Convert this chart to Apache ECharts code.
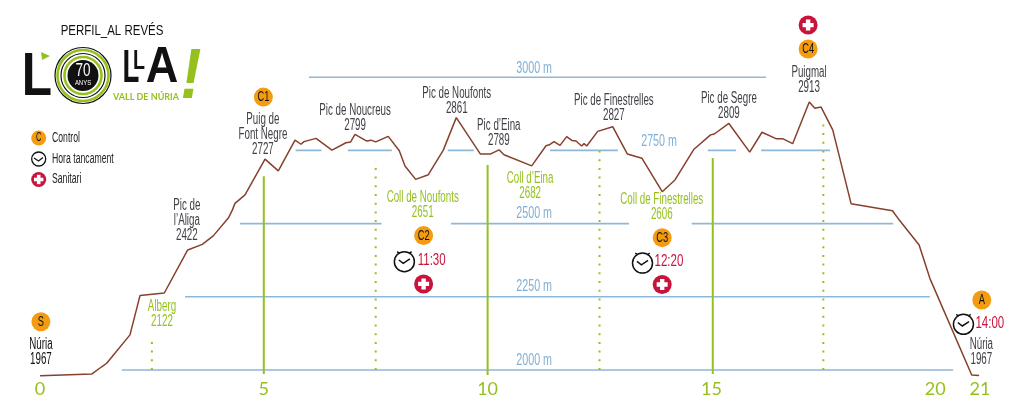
<!DOCTYPE html>
<html>
<head>
<meta charset="utf-8">
<style>
  html, body { margin: 0; padding: 0; background: #fff; }
  #chart { width: 1024px; height: 417px; }
</style>
<script src="https://cdn.jsdelivr.net/npm/echarts@6/dist/echarts.min.js"></script>
</head>
<body>
<div id="chart"></div>
<script>
// elevation profile (km, metres)
const profileKm = [0, 1.155, 1.378, 1.49, 2.01, 2.234, 2.777, 3.3, 3.626, 3.87, 4.216, 4.296, 4.356, 4.58, 5.027, 5.324, 5.697, 5.83, 5.898, 6.166, 6.523, 6.836, 6.94, 7.037, 7.3, 7.395, 7.5, 7.78, 8.027, 8.154, 8.393, 8.675, 9.01, 9.3, 9.836, 10.07, 10.254, 10.366, 10.985, 11.305, 11.378, 11.483, 11.617, 11.767, 11.879, 11.975, 12.1, 12.154, 12.214, 12.459, 12.794, 13.12, 13.449, 13.9, 14.186, 14.61, 14.98, 15.064, 15.39, 15.855, 16.13, 16.44, 16.59, 16.815, 17.186, 17.31, 17.45, 17.71, 18.12, 19.045, 19.197, 19.64, 19.88, 20.815, 20.98];
const profileAlt = [1980, 1986, 2011, 2023, 2120, 2254, 2263, 2410, 2429, 2458, 2521, 2546, 2569, 2598, 2720, 2680, 2785, 2771, 2780, 2791, 2751, 2776, 2779, 2805, 2782, 2785, 2779, 2798, 2749, 2697, 2651, 2667, 2751, 2862, 2738, 2738, 2752, 2735, 2697, 2766, 2769, 2780, 2767, 2797, 2784, 2782, 2765, 2773, 2765, 2815, 2831, 2738, 2723, 2609, 2649, 2754, 2803, 2806, 2842, 2744, 2812, 2790, 2790, 2773, 2915, 2894, 2898, 2820, 2568, 2544, 2512, 2427, 2313, 1983, 1981];

const kmTicks = [0, 5, 10, 15, 20, 21];

// horizontal altitude rules, each with the stretches of km where they are drawn
const levelAlts = [3000, 2750, 2500, 2250, 2000];
const levelRanges = [
  [[6.01, 16.22]],
  [[5.71, 6.29], [6.88, 7.86], [9.11, 9.69], [11.39, 12.91], [14.92, 15.55], [16.11, 17.65]],
  [[4.47, 7.63], [9.18, 13.16], [14.56, 19.06]],
  [[3.24, 19.88]],
  [[1.83, 20.4]]
];
const levelTexts = ["3000 m", "2750 m", "2500 m", "2250 m", "2000 m"];
const levelTextKm = [11.04, 13.83, 11.04, 11.04, 11.04];
const levelTextAlt = [3031, 2779, 2533, 2284, 2032];

// green km markers
const solidKm = [5, 10, 15.03];
const solidTop = [2662, 2700, 2724];
const solidBottom = [1986, 1983, 1986];
const dottedKm = [2.5, 7.5, 12.5, 17.5];
const dottedTop = [2109, 2714, 2765, 2847];
const dottedBottom = [2000, 2000, 2000, 2000];

// summits
const peakNames = ["Puig de\nFont Negre", "Pic de Noucreus", "Pic de Noufonts", "Pic d’Eina", "Pic de Finestrelles", "Pic de Segre", "Puigmal", "Pic de\nl’Aliga", "Núria"];
const peakHeights = [2727, 2799, 2861, 2789, 2827, 2809, 2913, 2422, 1967];
const peakKm = [4.98, 7.04, 9.31, 10.25, 12.82, 15.39, 17.18, 3.28, 21.03];
const peakAlt = [2803, 2861, 2919, 2810, 2895, 2900, 2990, 2509, 2060];

// cols and the refuge
const passNames = ["Alberg", "Coll de Noufonts", "Coll d’Eina", "Coll de Finestrelles"];
const passHeights = [2122, 2651, 2682, 2606];
const passKm = [2.725, 8.55, 10.95, 13.89];
const passAlt = [2190, 2563, 2628, 2555];

// start town, darker than the finish one
const startName = "Núria";
const startHeight = 1967;
const startKm = [0.02];
const startAlt = [2060];

// checkpoints
const controlNames = ["S", "C1", "C2", "C3", "C4", "A"];
const controlKm = [0.02, 4.99, 8.57, 13.9, 17.16, 21.04];
const controlAlt = [2165, 2932, 2459, 2452, 3096, 2239];
const medicKm = [8.57, 13.9, 17.16];
const medicAlt = [2294, 2292, 3178];
const closeTimes = ["11:30", "12:20", "14:00"];
const clockKm = [8.14, 13.46, 20.63];
const clockAlt = [2370, 2365, 2156];
const timeKm = [8.75, 14.05, 21.22];
const timeAlt = [2372, 2369, 2157];

const SANS = '"Liberation Sans", sans-serif';
const SQUEEZE = 0.61;
const GREEN = "#95c11f", BLUE = "#8fb8d8", ORANGE = "#f39c12", RED = "#c8143c", GRAY = "#3f3f46";
const CLOCK = "path://M10 2A9 9 0 1 1 9.99 2ZM5 9.5L9 12.5L15 8.5M3.5 2L5.5 3.5M16.5 2L14.5 3.5";
const PLUS = "path://M3 0H7V3H10V7H7V10H3V7H0V3H3Z";

function zip(xs, ys) {
  return xs.map((x, i) => [x, ys[i]]);
}

// no condensed face is installed, so squeeze the text sideways
function textSeries(name, xs, ys, texts, color, size, squeeze) {
  return {
    name: name,
    type: "custom",
    silent: true,
    z: 7,
    data: zip(xs, ys),
    renderItem: (params, api) => {
      const pos = api.coord([api.value(0), api.value(1)]);
      return {
        type: "text",
        x: pos[0],
        y: pos[1],
        scaleX: squeeze || SQUEEZE,
        style: {
          text: texts[params.dataIndex],
          fill: color,
          font: size + "px " + SANS,
          lineHeight: 15,
          textAlign: "center",
          textVerticalAlign: "middle"
        }
      };
    }
  };
}

function levelData() {
  let out = [];
  levelAlts.forEach((alt, i) => {
    levelRanges[i].forEach(r => {
      out.push([r[0], alt], [r[1], alt], ["-", "-"]);
    });
  });
  return out;
}

function verticalData(xs, tops, bottoms) {
  let out = [];
  xs.forEach((x, i) => {
    out.push([x, bottoms[i]], [x, tops[i]], ["-", "-"]);
  });
  return out;
}

function ruleSeries(name, data, color, width, dash) {
  return {
    name: name,
    type: "line",
    showSymbol: false,
    symbol: "none",
    silent: true,
    connectNulls: false,
    data: data,
    lineStyle: { color: color, width: width, type: dash || "solid" }
  };
}

function label(text, x, y, font, fill, scale, align) {
  return {
    type: "text",
    z: 21,
    x: x,
    y: y,
    scaleX: scale || 1,
    style: { text: text, fill: fill, font: font, textAlign: align || "center", textVerticalAlign: "middle" }
  };
}

function ring(r, color, width) {
  return { type: "circle", z: 20, shape: { cx: 83, cy: 75.5, r: r }, style: { fill: "none", stroke: color, lineWidth: width } };
}

const chart = echarts.init(document.getElementById("chart"));

chart.setOption({
  animation: false,
  backgroundColor: "#fff",
  grid: { left: 40, right: 44, top: 4, bottom: 35.3 },
  xAxis: {
    type: "value",
    min: 0,
    max: 21,
    interval: 5,
    splitLine: { show: false },
    axisLine: { show: false },
    axisTick: { show: false },
    axisLabel: {
      customValues: kmTicks,
      margin: -2,
      color: GREEN,
      fontFamily: "Lato",
      fontSize: 18
    }
  },
  yAxis: { type: "value", min: 1960, max: 3250, show: false },
  series: [
    ruleSeries("levels", levelData(), BLUE, 1.6),
    ruleSeries("km", verticalData(solidKm, solidTop, solidBottom), GREEN, 2),
    ruleSeries("km half", verticalData(dottedKm, dottedTop, dottedBottom), GREEN, 2, [2, 6.7]),
    {
      name: "perfil",
      type: "line",
      symbol: "none",
      silent: true,
      z: 4,
      data: zip(profileKm, profileAlt),
      lineStyle: { color: "#86402b", width: 1.5 }
    },
    textSeries("level texts", levelTextKm, levelTextAlt, levelTexts, "#7fb0d6", 16, 0.67),
    textSeries("peak texts", peakKm, peakAlt, peakNames.map((n, i) => n + "\n" + peakHeights[i]), GRAY, 16),
    textSeries("start text", startKm, startAlt, [startName + "\n" + startHeight], "#111", 16),
    textSeries("pass texts", passKm, passAlt, passNames.map((n, i) => n + "\n" + passHeights[i]), GREEN, 16),
    textSeries("times", timeKm, timeAlt, closeTimes, RED, 16, 0.72),
    {
      name: "Control",
      type: "scatter",
      clip: false,
      silent: true,
      z: 5,
      symbol: "circle",
      symbolSize: 19,
      itemStyle: { color: ORANGE, opacity: 1 },
      data: zip(controlKm, controlAlt)
    },
    textSeries("control texts", controlKm, controlAlt, controlNames, "#111", 15, 0.62),
    {
      name: "Sanitari",
      type: "scatter",
      clip: false,
      silent: true,
      z: 5,
      symbol: "circle",
      symbolSize: 19,
      itemStyle: { color: RED, opacity: 1 },
      data: zip(medicKm, medicAlt)
    },
    {
      name: "sanitari plus",
      type: "scatter",
      clip: false,
      silent: true,
      z: 6,
      symbol: PLUS,
      symbolSize: 11,
      itemStyle: { color: "#fff", opacity: 1 },
      data: zip(medicKm, medicAlt)
    },
    {
      name: "Hora tancament",
      type: "scatter",
      clip: false,
      silent: true,
      z: 5,
      symbol: CLOCK,
      symbolSize: 20,
      itemStyle: { color: "none", borderColor: "#111", borderWidth: 1.5, opacity: 1 },
      data: zip(clockKm, clockAlt)
    }
  ],
  graphic: [
    label("PERFIL_AL REVÉS", 112, 31, "14px " + SANS, "#111", 0.82),

    // legend
    { type: "circle", z: 20, shape: { cx: 38.7, cy: 138, r: 7.5 }, style: { fill: ORANGE } },
    label("C", 38.7, 138, "12px " + SANS, "#111", 0.62),
    label("Control", 52, 138, "14px " + SANS, "#222", 0.62, "left"),
    { type: "circle", z: 20, shape: { cx: 38.7, cy: 159, r: 7 }, style: { fill: "none", stroke: "#111", lineWidth: 1.3 } },
    { type: "polyline", z: 20, shape: { points: [[34, 158], [38.5, 161], [43, 157.5]] }, style: { fill: "none", stroke: "#111", lineWidth: 1.2 } },
    label("Hora tancament", 52, 159, "14px " + SANS, "#222", 0.62, "left"),
    { type: "circle", z: 20, shape: { cx: 38.7, cy: 179.5, r: 7.5 }, style: { fill: RED } },
    { type: "rect", z: 21, shape: { x: 34, y: 177.7, width: 9.4, height: 3.6 }, style: { fill: "#fff" } },
    { type: "rect", z: 21, shape: { x: 36.9, y: 174.8, width: 3.6, height: 9.4 }, style: { fill: "#fff" } },
    label("Sanitari", 52, 179.5, "14px " + SANS, "#222", 0.62, "left"),

    // logo
    label("L", 37, 78, "bold 62px " + SANS, "#111", 0.8),
    { type: "polygon", z: 20, shape: { points: [[41, 52], [50, 56], [42, 60]] }, style: { fill: GREEN } },
    ring(28, "#111", 1.2),
    ring(25.5, GREEN, 2.6),
    ring(22, "#111", 1.2),
    ring(18.5, GREEN, 2.6),
    { type: "circle", z: 20, shape: { cx: 83, cy: 75.5, r: 15.5 }, style: { fill: "#111" } },
    label("70", 83, 71, "18px " + SANS, "#fff", 0.75),
    label("ANYS", 83, 83.5, "7px " + SANS, "#fff", 0.85),
    label("L", 131, 69, "bold 46px " + SANS, "#111", 0.6),
    label("L", 139, 61, "bold 28px " + SANS, "#111", 0.7),
    label("A", 162, 68, "bold 50px " + SANS, "#111", 0.9),
    label("!", 191, 79, "italic bold 70px " + SANS, GREEN, 0.9),
    label("VALL DE NÚRIA", 146, 97, "bold 9px Lato", GREEN, 1)
  ]
});

window.addEventListener("resize", () => chart.resize());
</script>
</body>
</html>
